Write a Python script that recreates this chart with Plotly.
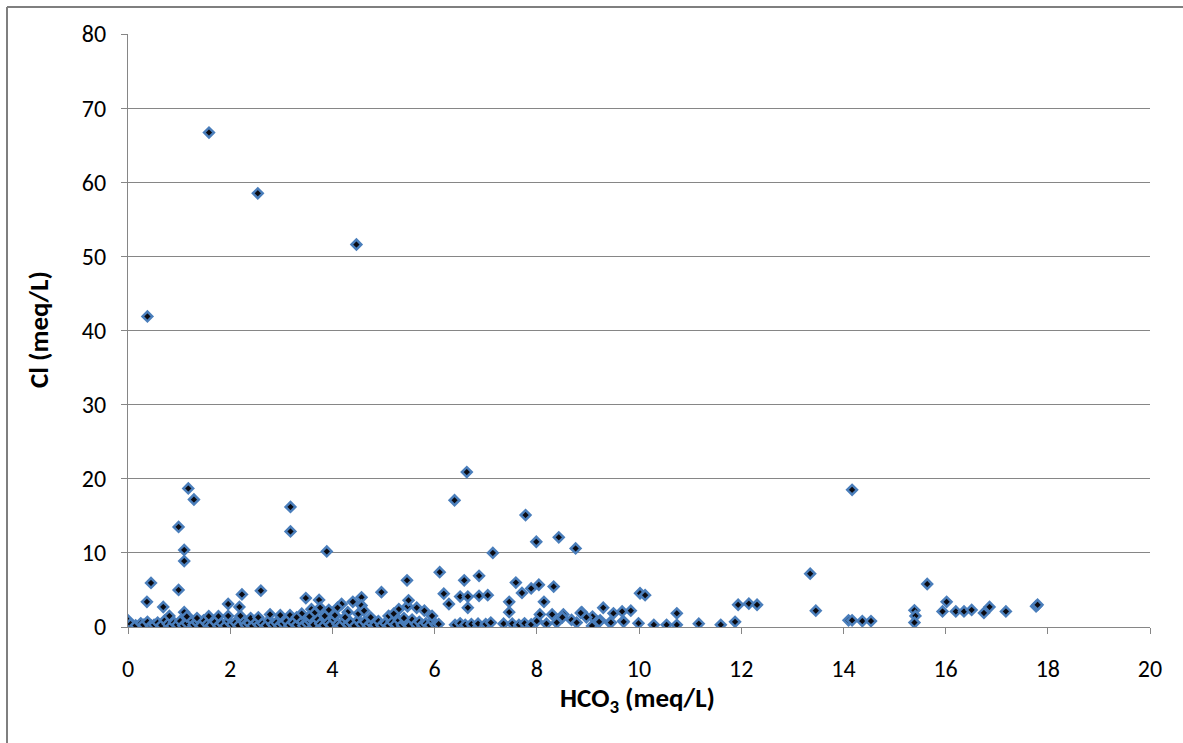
import plotly.graph_objects as go

# HCO3 and Cl concentrations (meq/L) for each sample
hco3_high = [0.38, 1.585, 2.54, 4.47]
cl_high = [41.9, 66.7, 58.5, 51.6]

hco3_mid = [1.18, 1.29, 0.99, 1.10, 1.10, 0.99, 1.10, 0.45, 0.37, 0.69,
            3.18, 3.18, 3.89, 1.96, 2.18, 2.23, 2.60, 3.48, 4.18,
            6.63, 6.39, 7.78, 7.99, 8.43, 8.76, 7.14, 6.10, 5.46, 4.96,
            6.18, 6.28, 6.58, 6.87, 6.50, 6.65, 6.87, 7.04, 6.65, 7.59,
            7.71, 7.89, 8.04, 8.33, 7.46, 7.46, 8.14, 8.06, 8.30, 8.52,
            8.88, 9.09, 8.97, 9.08, 8.50, 8.68, 8.86, 9.24, 9.43, 9.69,
            8.19, 8.39, 8.78,
            13.35, 13.46, 10.02, 10.12, 11.94, 12.15, 12.31, 11.88, 10.74,
            10.74, 9.99, 10.29, 10.54, 11.17, 11.60, 9.30, 9.50, 9.67,
            9.84, 9.70, 9.45, 9.22,
            14.17, 14.10, 14.17, 14.37, 14.54, 15.39, 15.41, 15.39, 15.64,
            16.02, 15.94, 16.20, 16.36, 16.51, 16.75, 16.86, 17.18, 17.77,
            17.80]
cl_mid = [18.7, 17.2, 13.5, 10.4, 8.9, 5.0, 2.0, 5.95, 3.4, 2.7,
          16.2, 12.9, 10.2, 3.1, 2.7, 4.4, 4.9, 3.9, 3.1,
          20.9, 17.1, 15.1, 11.5, 12.1, 10.6, 10.0, 7.4, 6.3, 4.7,
          4.5, 3.1, 6.3, 6.9, 4.1, 4.1, 4.2, 4.3, 2.6, 6.0,
          4.6, 5.2, 5.7, 5.45, 3.4, 2.0, 3.4, 1.7, 1.7, 1.7,
          2.0, 1.4, 1.3, 0.15, 1.3, 0.95, 1.9, 0.9, 0.6, 0.8,
          0.45, 0.6, 0.6,
          7.2, 2.2, 4.55, 4.3, 3.0, 3.15, 3.0, 0.7, 1.85,
          0.3, 0.5, 0.3, 0.3, 0.45, 0.3, 2.6, 1.85, 2.1,
          2.2, 0.7, 0.6, 0.7,
          18.5, 0.9, 0.9, 0.8, 0.8, 2.25, 1.5, 0.6, 5.8,
          3.4, 2.1, 2.1, 2.1, 2.3, 1.9, 2.7, 2.1, 2.8,
          3.0]

hco3_band = [0.0, 0.0, 0.05, 0.15, 0.25, 0.30, 0.38, 0.45, 0.51, 0.58,
             0.65, 0.72, 0.78, 0.85, 0.90, 0.96, 1.02, 1.08, 1.15, 1.22,
             1.28, 1.35, 1.42, 1.48, 1.55, 1.62, 1.70, 1.77, 1.83, 1.90,
             1.96, 2.03, 2.10, 2.16, 2.22, 2.30, 2.36, 2.43, 2.50, 2.56,
             2.63, 2.70, 2.76, 2.83, 2.90, 2.96, 3.03, 3.10, 3.16, 3.23,
             3.30, 3.36, 3.43, 3.50, 3.56, 3.63, 3.70, 3.76, 3.83, 3.90,
             3.96, 4.03, 4.10, 4.16, 4.23, 4.30, 4.36, 4.43, 4.50, 4.56,
             4.63, 4.70, 4.76, 4.83, 4.90, 4.96, 5.03, 5.10, 5.16, 5.23,
             5.30, 5.36, 5.43, 5.50, 5.56, 5.63, 5.70, 5.76, 5.83, 5.90,
             5.96, 6.02, 6.08,
             6.40, 6.50, 6.60, 6.72, 6.85, 7.00, 7.10, 7.35, 7.52, 7.65,
             7.76, 7.89, 8.00]
cl_band = [0.1, 0.9, 0.4, 0.2, 0.5, 0.3, 0.7, 0.2, 0.3, 0.6,
           0.25, 0.9, 0.4, 0.15, 0.6, 0.3, 0.8, 0.2, 0.5, 1.1,
           0.3, 0.6, 0.2, 0.9, 0.4, 0.25, 0.7, 0.2, 0.5, 0.15,
           0.8, 0.35, 0.6, 0.2, 1.0, 0.3, 0.55, 0.15, 0.7, 0.3,
           0.5, 0.2, 0.9, 0.35, 0.6, 0.2, 0.45, 0.8, 0.25, 0.6,
           0.3, 1.0, 0.2, 0.5, 0.8, 0.3, 1.1, 0.45, 0.2, 0.7,
           0.3, 1.0, 0.4, 0.2, 0.8, 0.35, 0.6, 0.15, 0.9, 0.4,
           0.7, 0.2, 0.5, 0.3, 0.8, 0.25, 0.5, 0.2, 0.7, 0.35,
           0.9, 0.3, 0.6, 0.2, 1.0, 0.4, 0.7, 0.3, 0.5, 0.25,
           0.8, 0.3, 0.4,
           0.3, 0.5, 0.3, 0.4, 0.45, 0.4, 0.6, 0.45, 0.45, 0.3,
           0.5, 0.35, 0.8]

hco3_lower = [0.81, 1.58, 1.77, 1.96, 2.40, 2.78, 2.98, 3.17, 3.40, 3.59,
              3.74, 3.76, 3.93, 4.05, 4.30, 4.40, 4.51, 4.57, 4.57, 4.62,
              4.75, 5.10, 5.30, 5.47, 5.49, 5.65, 5.80, 5.95, 3.85, 3.65,
              4.10, 4.25, 3.30, 3.55, 5.20, 5.40, 2.55, 2.20, 1.35, 1.15]
cl_lower = [1.5, 1.45, 1.45, 1.5, 1.2, 1.7, 1.6, 1.6, 1.8, 2.4,
            3.65, 2.6, 2.3, 1.6, 2.0, 3.4, 1.8, 4.0, 2.9, 2.2,
            1.3, 1.5, 2.4, 2.8, 3.6, 2.6, 2.2, 1.5, 1.5, 1.9,
            2.6, 1.3, 1.3, 1.4, 1.8, 1.2, 1.3, 1.5, 1.2, 1.4]

hco3 = hco3_high + hco3_mid + hco3_band + hco3_lower
cl = cl_high + cl_mid + cl_band + cl_lower

x_ticks = [0, 2, 4, 6, 8, 10, 12, 14, 16, 18, 20]
y_ticks = [0, 10, 20, 30, 40, 50, 60, 70, 80]

FONT = "Carlito, Lato, sans-serif"
AXIS_GRAY = "#868686"
FRAME_GRAY = "#7f7f7f"

W, H = 1183, 743
L, R, T, B = 128, 33, 34, 116
plot_w = W - L - R
plot_h = H - T - B


def px_to_paper(px, py):
    return (px - L) / plot_w, (H - B - py) / plot_h


fig = go.Figure()
fig.add_trace(go.Scatter(
    x=hco3, y=cl, mode="markers",
    marker=dict(symbol="diamond", size=7.5, color="#0b0b12",
                line=dict(color="#4A7EBB", width=2.5)),
    showlegend=False, hoverinfo="x+y",
))

# outer chart frame: left and top edges
fx0, fy0 = px_to_paper(7, 7)
fx_end, fy_end = px_to_paper(W, H)
fig.add_shape(type="line", xref="paper", yref="paper",
              x0=fx0, y0=fy0, x1=fx0, y1=fy_end,
              line=dict(color=FRAME_GRAY, width=2))
fig.add_shape(type="line", xref="paper", yref="paper",
              x0=fx0, y0=fy0, x1=fx_end, y1=fy0,
              line=dict(color=FRAME_GRAY, width=2))

tx, ty = px_to_paper(637, 699)
fig.add_annotation(text="<b>HCO<sub>3</sub> (meq/L)</b>", xref="paper", yref="paper",
                   x=tx, y=ty, xanchor="center", yanchor="middle", showarrow=False,
                   font=dict(family=FONT, size=27, color="#000000"))
tx, ty = px_to_paper(38, 330)
fig.add_annotation(text="<b>Cl (meq/L)</b>", xref="paper", yref="paper",
                   x=tx, y=ty, xanchor="center", yanchor="middle",
                   showarrow=False, textangle=-90,
                   font=dict(family=FONT, size=27, color="#000000"))

fig.update_xaxes(range=[0, 20], tickvals=x_ticks, ticktext=[str(v) for v in x_ticks],
                 showgrid=False, zeroline=False, showline=True, linecolor=AXIS_GRAY,
                 linewidth=1, ticks="outside", ticklen=6, tickcolor=AXIS_GRAY,
                 ticklabelstandoff=14,
                 tickfont=dict(family=FONT, size=24, color="#000000"))
fig.update_yaxes(range=[0, 80], tickvals=y_ticks, ticktext=[str(v) for v in y_ticks],
                 showgrid=True, gridcolor=AXIS_GRAY, gridwidth=1, zeroline=False,
                 showline=True, linecolor=AXIS_GRAY, linewidth=1,
                 ticks="outside", ticklen=6, tickcolor=AXIS_GRAY,
                 ticklabelstandoff=10,
                 tickfont=dict(family=FONT, size=24, color="#000000"))

fig.update_layout(width=W, height=H, margin=dict(l=L, r=R, t=T, b=B),
                  paper_bgcolor="white", plot_bgcolor="white",
                  font=dict(family=FONT))

fig.write_html("out.html")
